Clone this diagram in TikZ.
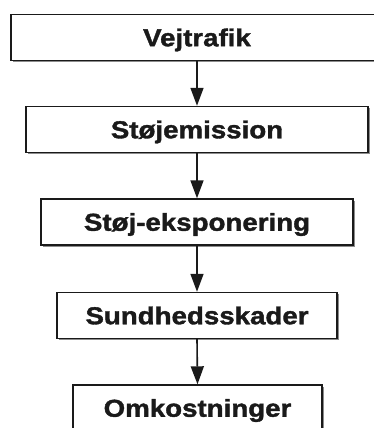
\documentclass[tikz,border=0pt]{standalone}
\usepackage{fontspec}
\newfontfamily\boxfont[FakeStretch=1.13,FakeBold=1.5]{Liberation Sans Bold}
\usetikzlibrary{arrows.meta,shadows}
\definecolor{ink}{HTML}{1A1A1A}
\tikzset{
  box/.style={draw=ink, line width=1.4pt, fill=white, rectangle, inner sep=0pt,
    minimum height=46pt, text=ink,
    font=\boxfont\fontsize{24.5}{24.5}\selectfont, text height=17.5pt, text depth=0pt,
    drop shadow={shadow xshift=1.6pt, shadow yshift=-1.6pt, fill=black!45, opacity=1}},
  arr/.style={draw=ink, line width=1.6pt, -{Triangle[length=18pt,width=13pt]}}
}
\begin{document}
\begin{tikzpicture}[x=1pt,y=-1pt]
\useasboundingbox (0,0) rectangle (374,428);
\clip (0,0) rectangle (374,428);
\node[box, minimum width=372pt] (a) at (197,37.5) {Vejtrafik};
\node[box, minimum width=342pt] (b) at (197,129.5) {Støjemission};
\node[box, minimum width=312pt] (c) at (197,222) {Støj-eksponering};
\node[box, minimum width=280pt] (d) at (197,315.5) {Sundhedsskader};
\node[box, minimum width=249pt] (e) at (197.5,408) {Omkostninger};
\draw[arr] (a.south) -- (b.north);
\draw[arr] (b.south) -- (c.north);
\draw[arr] (c.south) -- (d.north);
\draw[arr] (d.south) -- (e.north);
\end{tikzpicture}
\end{document}
